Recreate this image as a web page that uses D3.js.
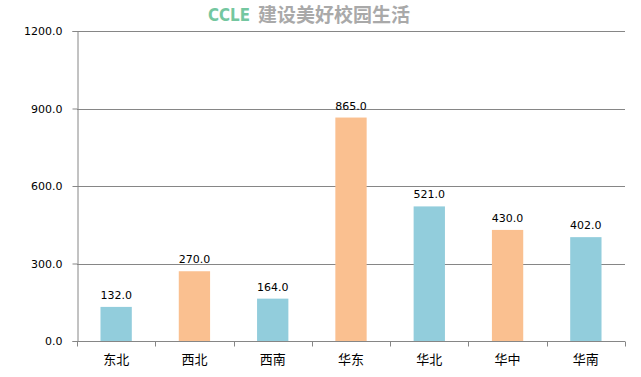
<!DOCTYPE html>
<html>
<head>
<meta charset="utf-8">
<script src="https://cdn.jsdelivr.net/npm/d3@7"></script>
<style>
  body { margin: 0; background: #fff; }
  text { font-family: "DejaVu Sans", "Noto Sans CJK SC", sans-serif; }
</style>
</head>
<body>
<div id="chart"></div>
<script>
var regions = ["东北", "西北", "西南", "华东", "华北", "华中", "华南"];
var amounts = [132, 270, 164, 865, 521, 430, 402];
var barColors = ["#92cddc", "#fac090", "#92cddc", "#fac090", "#92cddc", "#fac090", "#92cddc"];
var yTicks = [0, 300, 600, 900, 1200];

var W = 641, H = 377;
var margin = { top: 31, right: 16, bottom: 36, left: 77 };
var innerW = W - margin.left - margin.right;
var innerH = H - margin.top - margin.bottom;

var svg = d3.select("#chart").append("svg")
  .attr("width", W)
  .attr("height", H);

// watermark title
svg.append("text")
  .attr("x", 208)
  .attr("y", 21)
  .attr("fill", "#74c7a0")
  .attr("textLength", 42)
  .attr("lengthAdjust", "spacingAndGlyphs")
  .style("font-size", "18px")
  .style("font-weight", "bold")
  .style("font-family", "'DejaVu Sans'")
  .text("CCLE");
svg.append("text")
  .attr("x", 258)
  .attr("y", 22)
  .attr("fill", "#a9a9a9")
  .style("font-size", "19px")
  .style("font-weight", "bold")
  .style("font-family", "'Noto Sans CJK SC'")
  .text("建设美好校园生活");

var g = svg.append("g")
  .attr("transform", "translate(" + margin.left + "," + margin.top + ")");

var x = d3.scaleBand()
  .domain(regions)
  .range([0, innerW])
  .paddingInner(0.6)
  .paddingOuter(0.3);

var xBound = d3.scaleBand()
  .domain(regions)
  .range([0, innerW]);

var y = d3.scaleLinear()
  .domain([0, 1200])
  .range([innerH, 0]);

// gridlines
g.selectAll(".grid")
  .data(yTicks.filter(function (d) { return d > 0; }))
  .enter().append("line")
  .attr("x1", 0)
  .attr("x2", innerW)
  .attr("y1", function (d) { return Math.round(y(d)) + 0.5; })
  .attr("y2", function (d) { return Math.round(y(d)) + 0.5; })
  .attr("stroke", "#868686");

// bars
g.selectAll(".bar")
  .data(amounts)
  .enter().append("rect")
  .attr("x", function (d, i) { return x(regions[i]); })
  .attr("y", function (d) { return y(d); })
  .attr("width", x.bandwidth())
  .attr("height", function (d) { return innerH - y(d); })
  .attr("fill", function (d, i) { return barColors[i]; });

// value labels
g.selectAll(".lbl")
  .data(amounts)
  .enter().append("text")
  .attr("x", function (d, i) { return x(regions[i]) + x.bandwidth() / 2; })
  .attr("y", function (d) { return y(d) - 8; })
  .attr("text-anchor", "middle")
  .style("font-size", "11px")
  .attr("fill", "#000")
  .text(function (d) { return d3.format(".1f")(d); });

// y axis
var yAxis = d3.axisLeft(y)
  .tickValues(yTicks)
  .tickSize(5)
  .tickPadding(10)
  .tickFormat(d3.format(".1f"));

var ya = g.append("g").attr("transform", "translate(0.5,0)").call(yAxis);
ya.select(".domain").attr("stroke", "#868686");
ya.selectAll(".tick line").attr("stroke", "#868686");
ya.selectAll(".tick text").style("font-size", "11px").attr("fill", "#000")
  .style("font-family", "'DejaVu Sans'");

// x axis
var xa = g.append("g").attr("transform", "translate(0," + (innerH + 0.5) + ")");
xa.append("line")
  .attr("x1", 0).attr("x2", innerW)
  .attr("stroke", "#868686");
xa.selectAll(".xt")
  .data(regions.concat(["end"]))
  .enter().append("line")
  .attr("x1", function (d, i) { return Math.round(i * xBound.bandwidth()) + 0.5; })
  .attr("x2", function (d, i) { return Math.round(i * xBound.bandwidth()) + 0.5; })
  .attr("y1", 0).attr("y2", 5)
  .attr("stroke", "#868686");
xa.selectAll(".xl")
  .data(regions)
  .enter().append("text")
  .attr("x", function (d) { return xBound(d) + xBound.bandwidth() / 2; })
  .attr("y", 22)
  .attr("text-anchor", "middle")
  .style("font-size", "13px")
  .style("font-family", "'Noto Sans CJK SC'")
  .attr("fill", "#000")
  .text(function (d) { return d; });
</script>
</body>
</html>
